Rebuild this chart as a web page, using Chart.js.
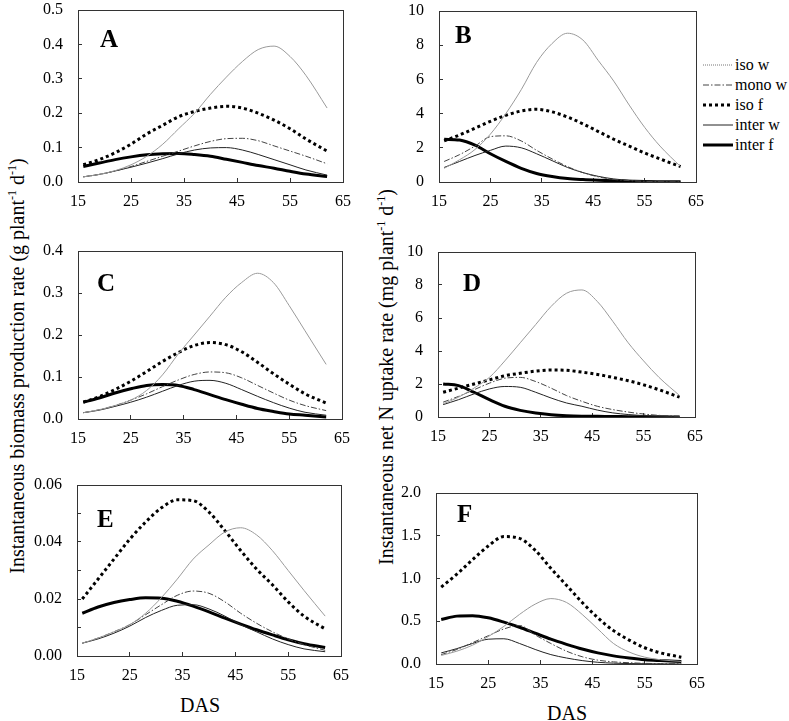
<!DOCTYPE html>
<html>
<head>
<meta charset="utf-8">
<script src="https://cdn.jsdelivr.net/npm/chart.js@4.4.0/dist/chart.umd.min.js"></script>
<style>
  body { margin: 0; background: #fff; }
  #fig { position: relative; width: 789px; height: 721px; overflow: hidden;
         font-family: "Liberation Serif", "Times New Roman", serif; color: #000; }
  #fig canvas { position: absolute; }
  .ytitle { position: absolute; white-space: nowrap; font-size: 20px;
            transform: translate(-50%, -50%) rotate(-90deg); }
  .das { position: absolute; font-size: 20px; transform: translate(-50%, -50%); }
  sup { font-size: 0.6em; line-height: 0; }
  #legend { position: absolute; left: 703px; top: 55px; font-size: 16px; }
  #legend .row { height: 20px; display: flex; align-items: center; }
  #legend svg { margin-right: 2px; }
</style>
</head>
<body>
<div id="fig">
  <div class="ytitle" style="left:17px; top:366px;">Instantaneous biomass production rate (g plant<sup>-1</sup> d<sup>-1</sup>)</div>
  <div class="ytitle" style="left:386px; top:377px;">Instantaneous net N uptake rate (mg plant<sup>-1</sup> d<sup>-1</sup>)</div>
  <div class="das" style="left:200px; top:705px;">DAS</div>
  <div class="das" style="left:567px; top:713px;">DAS</div>
  <div id="legend"></div>
</div>
<script>
// days after sowing, shared by every panel
const das = [16, 19, 22, 25, 28, 31, 34, 37, 40, 43, 46, 49, 52, 55, 58, 62];

// A : biomass rate
const isoW_A   = [.015,.022,.033,.05,.075,.11,.155,.2,.255,.305,.35,.385,.395,.365,.31,.215];
const monoW_A  = [.015,.022,.032,.045,.06,.075,.09,.105,.118,.126,.127,.12,.105,.09,.075,.053];
const isoF_A   = [.05,.065,.085,.11,.14,.165,.19,.205,.215,.22,.215,.2,.18,.155,.125,.09];
const interW_A = [.015,.022,.032,.043,.055,.068,.082,.093,.099,.1,.093,.08,.065,.05,.035,.02];
const interF_A = [.045,.055,.065,.073,.079,.082,.083,.08,.075,.066,.057,.048,.04,.031,.023,.016];

// B : N uptake rate
const isoW_B   = [.8,1.3,1.9,2.8,4.0,5.4,7.0,8.1,8.7,8.3,7.1,5.9,4.5,3.2,2.1,.9];
const monoW_B  = [1.2,1.6,2.1,2.65,2.7,2.4,1.85,1.35,.9,.55,.3,.15,.08,.04,.02,.01];
const isoF_B   = [2.4,2.75,3.15,3.55,3.9,4.15,4.25,4.1,3.8,3.4,2.95,2.5,2.1,1.7,1.35,.9];
const interW_B = [.85,1.2,1.55,1.85,2.1,2.0,1.65,1.25,.85,.55,.33,.18,.1,.05,.02,.01];
const interF_B = [2.5,2.45,2.15,1.65,1.2,.8,.5,.32,.2,.14,.1,.07,.05,.03,.02,.01];

// C
const isoW_C   = [.015,.022,.032,.045,.068,.105,.155,.2,.245,.29,.325,.347,.325,.27,.21,.13];
const monoW_C  = [.015,.022,.032,.045,.06,.077,.093,.106,.112,.11,.098,.08,.062,.045,.032,.02];
const isoF_C   = [.04,.053,.07,.09,.113,.137,.158,.175,.182,.177,.16,.135,.108,.083,.06,.038];
const interW_C = [.015,.021,.03,.04,.052,.066,.08,.09,.092,.085,.07,.054,.039,.026,.016,.009];
const interF_C = [.04,.05,.062,.072,.08,.082,.08,.07,.058,.046,.035,.025,.018,.012,.009,.005];

// D
const isoW_D   = [.8,1.2,1.75,2.4,3.4,4.5,5.6,6.7,7.5,7.7,7.0,5.8,4.5,3.4,2.4,1.3];
const monoW_D  = [.9,1.25,1.65,2.05,2.35,2.4,2.15,1.75,1.3,.95,.65,.45,.3,.18,.1,.05];
const isoF_D   = [1.5,1.75,2.0,2.25,2.5,2.65,2.78,2.85,2.83,2.72,2.58,2.4,2.2,1.95,1.65,1.2];
const interW_D = [.75,1.05,1.4,1.7,1.85,1.8,1.5,1.15,.85,.65,.42,.25,.15,.08,.04,.02];
const interF_D = [2.0,1.9,1.5,1.05,.65,.4,.24,.14,.08,.05,.04,.03,.02,.01,.01,0];

// E
const isoW_E   = [.0045,.0063,.0085,.011,.015,.0205,.027,.034,.039,.0435,.045,.0425,.037,.03,.023,.014];
const monoW_E  = [.0045,.0063,.0085,.011,.0145,.018,.0213,.0228,.022,.019,.015,.0115,.0085,.006,.004,.002];
const isoF_E   = [.02,.027,.034,.041,.047,.052,.0548,.0545,.0505,.044,.037,.0305,.025,.019,.014,.0095];
const interW_E = [.0045,.006,.008,.0105,.0135,.016,.0178,.018,.0165,.014,.011,.0085,.006,.004,.0025,.0015];
const interF_E = [.015,.0172,.0188,.0198,.0204,.0203,.0192,.0175,.0155,.0133,.0112,.0092,.0074,.0057,.0043,.003];

// F
const isoW_F   = [.1,.15,.22,.32,.44,.58,.7,.765,.72,.58,.41,.24,.14,.08,.05,.03];
const monoW_F  = [.11,.17,.25,.33,.41,.45,.34,.24,.15,.085,.045,.025,.015,.008,.004,.002];
const isoF_F   = [.9,1.05,1.22,1.38,1.49,1.47,1.33,1.12,.92,.72,.54,.39,.28,.19,.13,.08];
const interW_F = [.13,.18,.24,.29,.295,.24,.17,.11,.07,.04,.02,.01,.005,.003,.001,0];
const interF_F = [.52,.56,.565,.54,.49,.43,.36,.29,.23,.175,.13,.095,.07,.05,.04,.03];

const seriesNames = ["iso w", "mono w", "iso f", "inter w", "inter f"];

// line looks, same order as seriesNames
const styles = [
  { color: "#9a9a9a", width: 1, dash: [] },
  { color: "#444", width: 1, dash: [6, 2, 1.5, 2] },
  { color: "#000", width: 3, dash: [3, 3] },
  { color: "#222", width: 1, dash: [] },
  { color: "#000", width: 3, dash: [] }
];

const FONT = '"Liberation Serif", "Times New Roman", serif';

// frame round the plot area + the panel letter
const framePlugin = {
  id: "frame",
  afterDraw(chart, args, opts) {
    const { ctx, chartArea: a } = chart;
    ctx.save();
    ctx.strokeStyle = "#333";
    ctx.lineWidth = 1;
    ctx.strokeRect(Math.round(a.left) + 0.5, Math.round(a.top) + 0.5, Math.round(a.width), Math.round(a.height));
    ctx.fillStyle = "#000";
    ctx.font = "bold 25px " + FONT;
    ctx.fillText(opts.letter, a.left + opts.dx, a.top + opts.dy);
    ctx.restore();
  }
};

const panels = [
  { letter: "A", L: 78,  T: 10,  R: 343, B: 182, max: 0.5,  step: 0.1,  dec: 1, every: 1, dx: 22, dy: 37,
    data: [isoW_A, monoW_A, isoF_A, interW_A, interF_A] },
  { letter: "B", L: 439, T: 11,  R: 696, B: 182, max: 10,   step: 2,    dec: 0, every: 1, dx: 16, dy: 32,
    data: [isoW_B, monoW_B, isoF_B, interW_B, interF_B] },
  { letter: "C", L: 78,  T: 251, R: 342, B: 419, max: 0.4,  step: 0.1,  dec: 1, every: 1, dx: 19, dy: 40,
    data: [isoW_C, monoW_C, isoF_C, interW_C, interF_C] },
  { letter: "D", L: 438, T: 252, R: 695, B: 417, max: 10,   step: 2,    dec: 0, every: 1, dx: 25, dy: 39,
    data: [isoW_D, monoW_D, isoF_D, interW_D, interF_D] },
  { letter: "E", L: 77,  T: 485, R: 341, B: 656, max: 0.06, step: 0.01, dec: 2, every: 2, dx: 20, dy: 42,
    data: [isoW_E, monoW_E, isoF_E, interW_E, interF_E] },
  { letter: "F", L: 436, T: 493, R: 697, B: 664, max: 2.0,  step: 0.25, dec: 1, every: 2, dx: 21, dy: 29,
    data: [isoW_F, monoW_F, isoF_F, interW_F, interF_F] }
];

const fig = document.getElementById("fig");
const YW = 60, XH = 36, PADT = 12, PADR = 16;

// fixed axis sizes, and no extra room asked for by the tick labels
function fixX(s) { s.height = XH; s.paddingLeft = s.paddingRight = s.paddingTop = s.paddingBottom = 0; }
function fixY(s) { s.width = YW; s.paddingLeft = s.paddingRight = s.paddingTop = s.paddingBottom = 0; }

panels.forEach(p => {
  const canvas = document.createElement("canvas");
  canvas.width = p.R - p.L + YW + PADR;
  canvas.height = p.B - p.T + PADT + XH;
  canvas.style.left = (p.L - YW) + "px";
  canvas.style.top = (p.T - PADT) + "px";
  fig.appendChild(canvas);

  const datasets = p.data.map((vals, i) => ({
    label: seriesNames[i],
    data: das.map((d, j) => ({ x: d, y: vals[j] })),
    borderColor: styles[i].color,
    borderWidth: styles[i].width,
    borderDash: styles[i].dash,
    pointRadius: 0,
    fill: false,
    cubicInterpolationMode: "monotone"
  }));

  new Chart(canvas.getContext("2d"), {
    type: "line",
    data: { datasets },
    plugins: [framePlugin],
    options: {
      responsive: false,
      animation: false,
      devicePixelRatio: 1,
      layout: { padding: { top: PADT, right: PADR, left: 0, bottom: 0 } },
      plugins: {
        legend: { display: false },
        tooltip: { enabled: false },
        frame: { letter: p.letter, dx: p.dx, dy: p.dy }
      },
      scales: {
        x: {
          type: "linear", min: 15, max: 65,
          afterFit: fixX,
          border: { display: false },
          grid: { drawOnChartArea: false, tickLength: -4, color: "#333" },
          ticks: { stepSize: 10, padding: 14, color: "#000", font: { family: FONT, size: 16 } }
        },
        y: {
          min: 0, max: p.max,
          afterFit: fixY,
          border: { display: false },
          grid: { drawOnChartArea: false, tickLength: -4, color: "#333" },
          ticks: {
            stepSize: p.step, padding: 19, color: "#000", font: { family: FONT, size: 16 },
            callback: v => {
              const k = Math.round(v / p.step);
              return k % p.every === 0 ? v.toFixed(p.dec) : "";
            }
          }
        }
      }
    }
  });
});

// legend beside panel B
const legend = document.getElementById("legend");
seriesNames.forEach((name, i) => {
  const st = styles[i];
  const dash = i === 0 ? "1 1" : st.dash.join(" ");
  const row = document.createElement("div");
  row.className = "row";
  row.innerHTML =
    `<svg width="30" height="6"><line x1="0" y1="3" x2="30" y2="3" stroke="${i === 0 ? '#777' : st.color}" ` +
    `stroke-width="${st.width}" stroke-dasharray="${dash}"/></svg><span>${name}</span>`;
  legend.appendChild(row);
});
</script>
</body>
</html>
